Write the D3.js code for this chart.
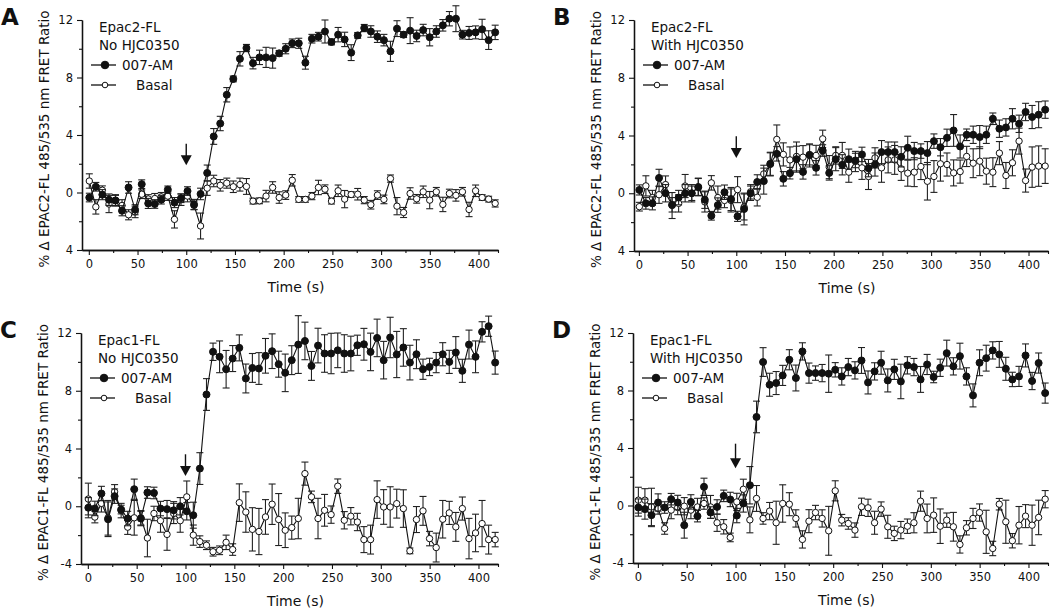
<!DOCTYPE html>
<html><head><meta charset="utf-8">
<script src="https://cdn.jsdelivr.net/npm/d3@7"></script>
<style>
body{margin:0;background:#fff}
svg{display:block}
text{font-family:"DejaVu Sans",Verdana,sans-serif;fill:#111}
</style>
</head><body>
<svg id="chart" width="1050" height="609"></svg>
<script>
// ---------- DATA ----------
const times = [
  0.5,7.2,13.9,20.7,27.4,34.1,40.8,47.5,54.3,61.0,
  67.7,74.4,81.1,87.9,94.6,101.3,108.0,114.7,121.5,128.2,
  134.9,141.6,148.3,155.1,161.8,168.5,175.2,181.9,188.7,195.4,
  202.1,208.8,215.5,222.3,229.0,235.7,242.4,249.1,255.9,262.6,
  269.3,276.0,282.7,289.5,296.2,302.9,309.6,316.3,323.1,329.8,
  336.5,343.2,349.9,356.7,363.4,370.1,376.8,383.5,390.3,397.0,
  403.7,410.4,417.1];

const xTicksMajor = [0,50,100,150,200,250,300,350,400];
const xTicksMinor = [25,75,125,175,225,275,325,375];
const yTicksMajor = [-4,0,4,8,12];
const yTicksMinor = [-2,2,6,10];
const yTickLabelsTop = ["4","0","4","8","12"];
const yTickLabelsBottom = ["-4","0","4","8","12"];

const seriesNames = ["007-AM","Basal"];

// Panel A: Epac2-FL, No HJC0350
const A_am = [
  -0.35,0.4,-0.15,-0.5,-0.55,-1.27,0.35,-1.2,0.58,-0.76,
  -0.8,-0.5,0.2,-0.7,-0.4,0.1,-0.83,-0.1,1.36,3.9,
  4.8,6.8,7.9,9.3,10.05,9.0,9.4,9.4,9.35,9.68,
  10.0,10.38,10.38,9.03,10.7,10.84,11.2,10.47,10.98,10.65,
  9.73,10.93,11.44,11.2,10.84,10.6,9.82,11.4,10.98,11.26,
  10.89,11.3,10.8,11.2,11.63,12.09,12.09,10.98,11.1,11.14,
  11.35,10.6,11.14];
const A_amErr = [
  0.3,0.3,0.35,0.4,0.35,0.35,0.4,0.35,0.3,0.35,
  0.3,0.3,0.25,0.35,0.3,0.3,0.35,0.4,0.55,0.55,
  0.5,0.5,0.2,0.5,0.25,0.4,0.5,0.7,0.7,0.2,
  0.35,0.3,0.35,0.45,0.3,0.3,0.8,0.2,0.5,0.5,
  0.55,0.2,0.25,0.4,0.4,0.4,0.7,0.55,0.2,0.9,
  0.4,0.4,0.6,0.4,0.4,0.5,0.9,0.3,0.45,0.45,
  0.7,0.65,0.5];
const A_ba = [
  0.8,-1.0,0.16,-0.8,-0.55,-0.9,-1.55,-1.35,-0.12,-0.45,
  -0.42,-0.3,-0.25,-1.87,-0.5,-0.25,-0.9,-2.33,0.3,0.8,
  0.5,0.65,0.4,0.55,0.42,-0.6,-0.58,-0.25,0.35,-0.35,
  -0.18,0.85,-0.48,-0.48,-0.25,0.35,0.23,-0.6,0.12,-0.46,
  -0.14,-0.12,-0.53,-0.85,-0.18,-0.48,0.97,-0.95,-1.39,-0.07,
  -0.44,0.05,-0.53,0.05,-0.83,-0.07,-0.2,0.05,-1.18,0.12,
  -0.35,-0.46,-0.76];
const A_baErr = [
  0.5,0.5,0.3,0.6,0.4,0.4,0.35,0.4,0.3,0.3,
  0.35,0.3,0.3,0.6,0.4,0.4,0.3,0.9,0.5,0.4,
  0.4,0.35,0.4,0.45,0.55,0.2,0.2,0.4,0.4,0.4,
  0.3,0.4,0.2,0.2,0.25,0.5,0.3,0.2,0.4,0.6,
  0.2,0.4,0.25,0.3,0.3,0.3,0.25,0.6,0.35,0.4,
  0.3,0.4,0.6,0.3,0.5,0.3,0.4,0.3,0.5,0.4,
  0.2,0.2,0.25];

// Panel B: Epac2-FL, With HJC0350
const B_am = [
  0.23,-0.7,-0.7,1.06,0,-0.8,-0.3,0,0,0.42,
  -0.45,-1.56,-0.82,0.07,-0.4,-1.6,-1.09,0,0.78,0.84,
  2.04,2.73,1.0,1.39,2.36,1.48,2.66,1.76,2.96,1.41,
  2.36,1.97,2.36,2.27,2.69,1.74,1.99,2.85,2.85,2.85,
  2.52,3.15,2.92,2.92,2.78,3.61,3.19,3.84,4.35,3.24,
  4.05,4.05,3.89,4.05,5.16,4.47,4.56,5.16,4.81,5.63,
  5.28,5.44,5.79];
const B_amErr = [
  0.35,0.4,0.45,0.6,0.6,0.5,0.5,0.6,0.5,0.6,
  0.6,0.3,0.5,0.5,0.8,0.35,1.1,0.5,0.5,0.9,
  0.8,0.5,0.5,0.4,0.9,0.5,0.7,0.5,0.4,0.5,
  0.8,0.7,0.7,0.5,0.5,0.6,0.8,0.8,0.7,0.7,
  0.7,0.8,0.6,0.5,0.8,0.5,0.6,0.6,1.1,0.8,
  0.4,0.6,0.8,0.6,0.4,0.6,0.6,0.7,0.6,0.6,
  0.8,0.9,0.6];
const B_ba = [
  -0.93,0.51,-0.3,-0.1,0.6,-0.85,-0.7,0.5,0,0.45,
  -0.6,0.72,-0.3,-0.5,-0.5,0.25,-0.95,0.1,-0.28,1.34,
  2.0,3.73,2.69,2.31,2.55,2.5,2.62,2.62,3.77,1.81,
  2.62,2.62,1.46,2.2,1.76,1.16,2.45,1.76,2.31,2.31,
  1.69,1.39,1.46,1.85,0.83,1.16,2.04,1.99,1.41,1.5,
  2.55,2.08,2.22,1.53,1.46,2.78,1.23,2.11,3.61,0.88,
  1.81,1.88,1.88];
const B_baErr = [
  0.3,0.7,0.5,0.6,0.6,0.9,0.6,0.8,0.6,0.6,
  0.7,0.5,0.8,0.5,0.8,0.9,0.9,0.5,0.6,0.6,
  0.8,1.0,0.8,0.9,1.0,0.8,0.8,0.7,0.6,0.8,
  0.6,0.9,0.7,0.7,0.8,0.9,0.7,1.0,0.9,1.0,
  0.8,0.9,1.0,0.9,1.3,1.1,1.2,0.8,0.9,0.8,
  0.7,1.0,1.0,0.9,1.0,0.8,0.9,0.9,0.9,0.8,
  1.4,1.4,1.2];

// Panel C: Epac1-FL, No HJC0350
const C_am = [
  -0.1,-0.15,0.88,-0.9,0.7,-0.23,-0.85,1.18,-0.85,0.95,
  0.92,-0.16,-0.2,-0.28,0,-0.35,-0.62,2.61,7.74,10.7,
  10.35,9.49,10.23,10.97,8.85,9.58,9.54,10.42,10.74,9.84,
  9.24,10.12,11.2,11.45,9.72,11.13,10.58,10.58,10.8,10.58,
  10.58,11.15,11.22,10.69,11.66,10.12,11.69,10.51,11.0,9.95,
  10.53,9.49,9.65,9.95,10.53,10.0,10.65,9.38,11.2,10.35,
  12.08,12.47,9.95];
const C_amErr = [
  0.7,0.5,0.5,1.2,0.5,0.3,0.5,0.7,0.5,0.4,
  0.4,0.5,0.6,0.6,0.6,0.6,0.9,1.1,1.1,0.6,
  1.1,1.3,0.9,0.9,1.0,1.0,1.1,1.2,1.2,0.9,
  1.3,1.0,2.0,1.3,1.0,1.2,1.3,1.4,1.2,1.3,
  1.2,0.7,1.1,1.3,1.3,1.3,1.4,1.6,1.3,1.2,
  1.0,0.7,0.6,0.7,0.8,0.8,1.1,0.8,1.0,1.1,
  0.7,0.7,0.8];
const C_ba = [
  0.5,-0.75,0.2,-0.8,1.0,-0.3,-1.45,-0.8,-0.8,-2.2,
  -0.5,-1.0,-1.95,-0.5,-1.0,0.65,-2.0,-2.45,-2.7,-3.15,
  -3.05,-2.5,-3.0,0.25,-0.4,-1.6,-1.75,-0.74,0.14,-0.92,
  -1.66,-1.48,-0.85,2.26,0.65,-0.85,-0.28,-0.58,1.39,-0.97,
  -0.69,-1.09,-2.31,-2.31,0.46,-0.05,-0.05,0.18,-0.16,-3.09,
  -0.92,-0.32,-2.24,-2.86,-0.9,-0.46,-1.43,-0.16,-2.24,-1.85,
  -1.2,-2.31,-2.31];
const C_baErr = [
  1.1,0.4,0.6,1.2,0.5,0.5,0.5,1.2,0.5,1.3,
  0.5,0.8,1.1,0.7,0.8,1.1,0.7,0.4,0.3,0.3,
  0.3,0.5,0.4,1.3,1.4,1.5,1.6,1.2,1.4,1.8,
  1.2,0.8,1.4,0.8,0.4,1.4,1.1,0.6,0.5,0.6,
  0.6,0.6,0.9,1.0,1.3,1.2,1.4,1.0,1.3,0.2,
  0.9,1.0,0.5,1.0,1.3,0.8,1.0,0.8,1.4,1.3,
  1.6,1.0,0.5];

// Panel D: Epac1-FL, With HJC0350
const D_am = [
  -0.14,-0.25,-0.67,0.21,-0.14,0.44,0.21,-1.37,0.25,-0.74,
  1.3,-0.49,-0.1,0.67,0.42,-0.7,0.14,1.41,6.16,9.98,
  8.4,8.52,9.05,10.14,8.87,10.72,9.21,9.21,9.21,9.17,
  9.44,8.98,9.63,9.4,10.09,8.56,9.33,9.93,8.7,9.47,
  8.63,9.75,9.63,8.77,9.81,8.94,9.58,10.6,9.68,10.39,
  8.98,7.66,9.93,10.25,10.79,10.51,9.51,8.77,8.98,10.44,
  8.66,9.91,7.82];
const D_amErr = [
  0.6,0.7,0.8,0.6,0.4,0.4,0.5,0.9,0.5,0.4,
  0.6,0.4,0.5,0.4,0.5,0.5,0.6,1.3,1.1,1.0,
  0.8,0.8,0.7,0.7,0.9,0.6,0.7,0.5,0.6,1.3,
  0.5,0.6,0.6,0.6,0.9,0.8,0.6,0.8,0.8,0.7,
  1.2,0.6,0.6,0.9,0.7,0.4,0.6,0.9,0.6,0.9,
  0.6,0.8,0.9,0.9,0.6,0.9,0.8,0.5,0.7,0.8,
  0.6,0.7,0.7];
const D_ba = [
  0.37,0.37,-0.1,-0.2,-1.6,-0.32,-0.14,-0.05,-0.32,-0.1,
  0.14,-0.1,-1.2,-1.48,-2.22,0.25,1.13,-1.0,0.49,-0.9,
  -0.39,-1.2,0.14,0.09,-0.9,-2.36,-1.09,-0.49,-0.9,-1.76,
  1.02,-1.02,-1.25,-1.71,-0.09,-0.16,-1.2,-0.25,-1.48,-1.94,
  -1.71,-1.44,-1.2,0.3,-0.9,-0.67,-1.44,-1.02,-1.48,-2.71,
  -1.55,-0.9,-0.49,-1.83,-2.99,0.09,-1.13,-2.45,-1.37,-0.74,
  -1.37,-0.83,0.44];
const D_baErr = [
  0.9,0.8,1.3,0.4,0.4,0.6,0.5,0.6,0.6,0.6,
  0.4,0.8,0.6,0.5,0.3,0.6,0.7,0.9,0.9,0.4,
  0.6,1.5,1.3,0.8,0.6,0.6,0.8,0.5,0.6,1.7,
  0.7,0.4,0.4,0.5,0.6,0.6,0.8,0.5,0.8,0.5,
  0.6,0.5,0.7,0.7,1.0,1.2,1.2,0.5,1.0,0.6,
  0.5,0.7,0.6,1.5,0.5,0.4,1.5,0.5,1.3,0.8,
  1.4,1.2,0.6];

// arrow annotations (time, from value, to value)
const arrowA = [100, 3.4, 1.9];
const arrowB = [100, 3.95, 2.45];
const arrowC = [100, 3.6, 2.1];
const arrowD = [100, 4.3, 2.6];

// ---------- LAYOUT ----------
const panels = [
  {letter:"A", title1:"Epac2-FL", title2:"No HJC0350", ylab:"% \u0394 EPAC2-FL 485/535 nm FRET Ratio",
   am:A_am, amErr:A_amErr, ba:A_ba, baErr:A_baErr, yLabels:yTickLabelsTop, arrow:arrowA,
   left:82, right:498, top:20, bottom:250, xmin:-7},
  {letter:"B", title1:"Epac2-FL", title2:"With HJC0350", ylab:"% \u0394 EPAC2-FL 485/535 nm FRET Ratio",
   am:B_am, amErr:B_amErr, ba:B_ba, baErr:B_baErr, yLabels:yTickLabelsTop, arrow:arrowB,
   left:634, right:1048, top:20, bottom:251, xmin:-5},
  {letter:"C", title1:"Epac1-FL", title2:"No HJC0350", ylab:"% \u0394 EPAC1-FL 485/535 nm FRET Ratio",
   am:C_am, amErr:C_amErr, ba:C_ba, baErr:C_baErr, yLabels:yTickLabelsBottom, arrow:arrowC,
   left:81, right:498, top:333, bottom:564, xmin:-7},
  {letter:"D", title1:"Epac1-FL", title2:"With HJC0350", ylab:"% \u0394 EPAC1-FL 485/535 nm FRET Ratio",
   am:D_am, amErr:D_amErr, ba:D_ba, baErr:D_baErr, yLabels:yTickLabelsBottom, arrow:arrowD,
   left:633, right:1048, top:333, bottom:563, xmin:-5}
];

const svg = d3.select("#chart");
const INK = "#111";
const FONT = "DejaVu Sans, Verdana, sans-serif";

function drawPanel(p) {
  const x = d3.scaleLinear().domain([p.xmin, 420]).range([p.left, p.right]);
  const y = d3.scaleLinear().domain([-4, 12]).range([p.bottom, p.top]);
  const g = svg.append("g");

  // axes
  g.append("g").attr("transform", `translate(${p.left},0)`)
    .call(d3.axisLeft(y).tickValues(yTicksMajor).tickFormat((d,i)=>p.yLabels[i]).tickSize(5).tickSizeOuter(0).tickPadding(4));
  g.append("g").attr("transform", `translate(${p.left},0)`)
    .call(d3.axisLeft(y).tickValues(yTicksMinor).tickFormat("").tickSize(3).tickSizeOuter(0));
  g.append("g").attr("transform", `translate(0,${p.bottom})`)
    .call(d3.axisBottom(x).tickValues(xTicksMajor).tickSize(5).tickSizeOuter(0).tickPadding(5));
  g.append("g").attr("transform", `translate(0,${p.bottom})`)
    .call(d3.axisBottom(x).tickValues(xTicksMinor.concat([420])).tickFormat("").tickSize(3).tickSizeOuter(0));
  g.selectAll(".domain").attr("stroke", INK).attr("stroke-width", 1.3);
  g.selectAll(".tick line").attr("stroke", INK).attr("stroke-width", 1.1);
  g.selectAll(".tick text").attr("font-size", 11.5).attr("font-family", FONT).attr("fill", INK);

  // axis titles
  g.append("text")
    .attr("transform", `translate(${p.left - 33},${(p.top + p.bottom)/2 + 4}) rotate(-90)`)
    .attr("text-anchor", "middle").attr("font-size", 13.5).text(p.ylab);
  g.append("text")
    .attr("x", (p.left + p.right)/2 + 6).attr("y", p.bottom + 42)
    .attr("text-anchor", "middle").attr("font-size", 14).text("Time (s)");

  // panel letter
  g.append("text").attr("x", p.left - 81)
    .attr("y", p.top + 5).attr("font-size", 23).attr("font-weight", "bold")
    .attr("font-family", "Liberation Sans, Arial, sans-serif").text(p.letter);

  // legend
  const lx = p.left + 17;
  g.append("text").attr("x", lx).attr("y", p.top + 12).attr("font-size", 13.5).text(p.title1);
  g.append("text").attr("x", lx).attr("y", p.top + 30).attr("font-size", 13.5).text(p.title2);
  const rows = [{name:seriesNames[0], filled:true, dy:45}, {name:seriesNames[1], filled:false, dy:65}];
  rows.forEach(r => {
    const cy = p.top + r.dy;
    g.append("line").attr("x1", p.left + 9).attr("x2", p.left + 34).attr("y1", cy).attr("y2", cy)
      .attr("stroke", INK).attr("stroke-width", 1.3);
    g.append("circle").attr("cx", p.left + 23).attr("cy", cy).attr("r", r.filled ? 3.8 : 2.8)
      .attr("fill", r.filled ? INK : "#fff").attr("stroke", INK).attr("stroke-width", 1);
    g.append("text").attr("x", r.filled ? p.left + 40 : p.left + 54).attr("y", cy + 5)
      .attr("font-size", 13.5).text(r.name);
  });

  // arrow
  const ax = x(p.arrow[0]);
  const yTop = y(p.arrow[1]), yTip = y(p.arrow[2]);
  g.append("line").attr("x1", ax).attr("x2", ax).attr("y1", yTop).attr("y2", yTip - 6)
    .attr("stroke", INK).attr("stroke-width", 1.4);
  g.append("path").attr("d", `M${ax-5.5},${yTip-10} L${ax+5.5},${yTip-10} L${ax},${yTip} Z`).attr("fill", INK);

  // series
  const sets = [
    {v:p.ba, e:p.baErr, filled:false},
    {v:p.am, e:p.amErr, filled:true}
  ];
  const line = d3.line().x(d => x(d.t)).y(d => y(d.v));
  sets.forEach(s => {
    const data = times.map((t,i) => ({t, v:s.v[i], e:s.e[i]}));
    const eb = g.append("g").attr("stroke", "#222").attr("stroke-width", 1.1);
    data.forEach(d => {
      const cx = x(d.t), y1 = y(d.v - d.e), y2 = y(d.v + d.e);
      eb.append("line").attr("x1", cx).attr("x2", cx).attr("y1", y1).attr("y2", y2);
      eb.append("line").attr("x1", cx-3.5).attr("x2", cx+3.5).attr("y1", y1).attr("y2", y1);
      eb.append("line").attr("x1", cx-3.5).attr("x2", cx+3.5).attr("y1", y2).attr("y2", y2);
    });
    g.append("path").datum(data).attr("d", line).attr("fill", "none")
      .attr("stroke", INK).attr("stroke-width", 1.1);
    g.append("g").selectAll("circle").data(data).join("circle")
      .attr("cx", d => x(d.t)).attr("cy", d => y(d.v))
      .attr("r", s.filled ? 3.5 : 3.2)
      .attr("fill", s.filled ? INK : "#fff").attr("stroke", INK).attr("stroke-width", 1);
  });
}

panels.forEach(drawPanel);
</script>
</body></html>
